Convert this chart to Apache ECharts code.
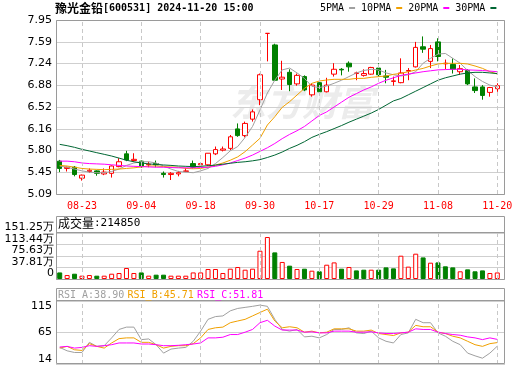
<!DOCTYPE html>
<html>
<head>
<meta charset="utf-8">
<script src="https://cdn.jsdelivr.net/npm/echarts/dist/echarts.min.js"></script>
<style>
html, body { margin: 0; padding: 0; background: #fff; }
#chart { width: 520px; height: 365px; }
</style>
</head>
<body>
<div id="chart"></div>
<script>
// 交易日
var dates = ['08-20','08-21','08-22','08-23','08-26','08-27','08-28','08-29','08-30',
  '09-02','09-03','09-04','09-05','09-06','09-09','09-10','09-11','09-12','09-13',
  '09-18','09-19','09-20','09-23','09-24','09-25','09-26','09-27','09-30',
  '10-08','10-09','10-10','10-11','10-14','10-15','10-16','10-17','10-18','10-21',
  '10-22','10-23','10-24','10-25','10-28','10-29','10-30','10-31',
  '11-01','11-04','11-05','11-06','11-07','11-08','11-11','11-12','11-13','11-14',
  '11-15','11-18','11-19','11-20'];

// K线 开 收 低 高
var opens = [5.63,5.51,5.53,5.35,5.46,5.47,5.42,5.43,5.54,5.75,5.64,5.63,5.57,5.59,5.43,5.41,5.42,5.46,5.59,5.57,
  5.57,5.75,5.81,5.84,6.16,6.05,6.32,6.64,7.73,7.54,6.98,7.09,6.90,7.02,6.72,6.92,6.77,7.06,7.14,7.24,
  7.07,7.04,7.06,7.16,7.03,6.94,6.92,7.11,7.18,7.51,7.27,7.59,7.23,7.22,7.10,7.12,6.85,6.85,6.76,6.82];
var closes = [5.51,5.53,5.41,5.40,5.48,5.43,5.45,5.55,5.62,5.65,5.66,5.54,5.58,5.57,5.41,5.43,5.44,5.47,5.53,5.59,
  5.76,5.82,5.83,6.03,6.05,6.25,6.44,7.05,7.73,6.96,7.01,6.89,7.04,6.80,6.88,6.77,6.88,7.14,7.13,7.18,
  7.08,7.07,7.17,7.05,7.01,6.95,7.08,7.12,7.50,7.47,7.48,7.35,7.24,7.14,7.15,6.90,6.79,6.71,6.84,6.87];
var lows = [5.45,5.46,5.38,5.31,5.44,5.39,5.40,5.36,5.53,5.63,5.62,5.52,5.53,5.53,5.36,5.32,5.38,5.45,5.51,5.54,
  5.55,5.73,5.79,5.81,6.03,6.02,6.28,6.55,7.27,6.96,6.80,6.78,6.87,6.78,6.69,6.75,6.76,7.02,7.04,7.10,
  6.96,7.02,7.05,7.02,6.91,6.87,6.91,6.96,7.17,7.41,7.16,7.27,7.14,7.07,7.05,6.88,6.75,6.64,6.69,6.77];
var highs = [5.65,5.54,5.55,5.41,5.51,5.48,5.51,5.56,5.68,5.80,5.76,5.64,5.62,5.64,5.46,5.45,5.47,5.52,5.64,5.60,
  5.76,5.87,5.87,6.06,6.25,6.28,6.48,7.07,7.73,7.56,7.28,7.14,7.07,7.04,6.91,6.96,7.00,7.24,7.16,7.27,
  7.10,7.14,7.18,7.24,7.13,7.02,7.32,7.16,7.59,7.68,7.54,7.65,7.30,7.32,7.21,7.14,6.99,6.88,6.85,6.91];

// 均线
var ma5 = [5.55,5.53,5.50,5.47,5.45,5.44,5.44,5.46,5.50,5.56,5.60,5.62,5.62,5.60,5.55,5.50,5.46,5.45,5.44,5.47,
  5.51,5.59,5.69,5.80,5.87,6.02,6.20,6.47,6.75,6.96,7.13,7.16,7.08,6.99,6.86,6.84,6.865,6.91,6.96,7.02,
  7.08,7.12,7.14,7.13,7.08,7.05,7.03,7.05,7.10,7.24,7.32,7.39,7.40,7.32,7.24,7.12,7.02,6.94,6.88,6.85];
var ma10 = [5.56,5.55,5.53,5.51,5.50,5.495,5.49,5.495,5.50,5.51,5.52,5.535,5.55,5.55,5.54,5.535,5.53,5.51,5.505,5.51,
  5.53,5.565,5.60,5.645,5.70,5.786,5.895,6.005,6.224,6.36,6.515,6.608,6.717,6.827,6.909,6.947,6.964,6.975,6.975,6.975,
  6.99,6.99,7.008,7.019,7.03,7.057,7.073,7.10,7.128,7.155,7.194,7.227,7.238,7.238,7.238,7.227,7.194,7.155,7.10,7.062];
var ma20 = [5.63,5.63,5.62,5.60,5.59,5.585,5.58,5.57,5.56,5.55,5.545,5.54,5.535,5.53,5.53,5.525,5.52,5.52,5.52,5.525,
  5.53,5.545,5.57,5.60,5.64,5.68,5.73,5.79,5.85,5.92,6.00,6.07,6.13,6.20,6.29,6.38,6.44,6.52,6.60,6.68,
  6.74,6.80,6.85,6.91,6.96,7.00,7.04,7.06,7.08,7.10,7.115,7.13,7.135,7.14,7.14,7.13,7.125,7.12,7.11,7.10];
var ma30 = [5.906,5.884,5.857,5.824,5.797,5.769,5.742,5.714,5.68,5.645,5.62,5.60,5.585,5.575,5.567,5.56,5.55,5.545,5.54,5.545,
  5.555,5.565,5.58,5.595,5.61,5.62,5.635,5.655,5.69,5.73,5.78,5.84,5.89,5.95,6.02,6.07,6.115,6.165,6.215,6.27,
  6.32,6.37,6.42,6.48,6.55,6.62,6.66,6.72,6.78,6.84,6.90,6.96,7.00,7.03,7.06,7.08,7.09,7.09,7.08,7.07];

// 成交量（万手）与涨跌
var volumes = [21.6,13,17.4,10.9,13,10.9,10.9,17.4,19.7,36.2,19.7,21.6,10.9,14.2,14.2,10.9,10.9,10.9,21.6,21.6,
  32.9,32.9,19.7,33.9,39.5,30.6,33.9,93,138,87.5,56,43.8,32.9,33.9,27.3,25.3,47,54.6,33.9,39.5,
  28.3,30.6,30.6,30.6,38.2,35,76.6,40.6,83.2,71,53.6,54.6,41.7,38.2,25.3,31.7,25.3,28.3,19.7,21.485];
var volUp = [0,1,0,1,1,0,1,1,1,1,1,0,1,0,0,1,1,1,1,1,
  1,1,1,1,1,1,1,1,1,0,1,0,1,0,1,0,1,1,0,1,
  0,0,1,0,0,0,1,1,1,0,1,0,0,0,1,0,0,0,1,1];

// RSI
var rsiA = [36.5,30,26.8,26.8,46.2,38.5,39.8,54.7,70.8,75.3,75.3,51.4,52.7,41.7,25.6,33.3,35.2,36.5,48.1,67.6,
  90.2,95.4,96.7,106.4,111,113,115,117.4,115,90.2,70.8,67.6,70.8,56.6,57.9,54.7,61.1,70.8,70.8,74,
  64.3,63,67.6,54.7,48.2,45,61.1,64.3,90.2,83.7,83.7,64.3,57.9,48.2,41.7,25.6,20.4,15.9,25.6,38.90];
var rsiB = [35.2,38.5,32,30.7,43.7,38.5,35.2,45,53.3,54.7,54.7,46.2,46.2,41.7,35.2,38.5,39.8,39.8,43.7,54.7,
  70.8,74,75.3,83.7,87,90.2,96.7,103.2,109.6,87,74,76,74,65.6,67.6,64.3,65.6,72,72,72,
  67.6,67.6,69.6,63,61.1,59.2,64.3,65.6,78.6,76,76,65.6,63,57.9,54.7,48.2,41.7,38.5,43.7,45.71];
var rsiC = [37.2,38.5,35.2,36.5,39.8,38.5,39.8,41.7,45,45,45,43,43,41.7,39.8,39.8,40.5,41.7,43,45,
  54.7,54.7,56,61.1,61.1,65.6,70.8,83.7,88.3,77.3,69.6,69.6,69.6,65.6,66.3,64.3,64.3,67.6,67.6,67.6,
  65.6,65.6,66.3,64.3,63,63,64.3,65.6,72,70.8,70.8,65.6,63,61.1,59.8,56.6,54.7,51.4,54.7,51.81];

// 刻度
var priceTicks = ['5.09','5.45','5.80','6.16','6.52','6.88','7.24','7.59','7.95'];
var volTicks = ['0','37.81万','75.63万','113.44万','151.25万'];
var rsiTicks = [14, 65, 115];
var markDates = ['08-23','09-04','09-18','09-30','10-17','10-29','11-08','11-20'];

var RED = '#ff0000', GREEN = '#008000';
var MONO = 'DejaVu Sans Mono', SANS = 'DejaVu Sans', CJK = 'Noto Sans CJK SC';
var PMIN = 5.09, PMAX = 7.95, PINT = 0.3575;
var VMAX = 151.25, VINT = 37.8125;
var RMIN = 4.8, RMAX = 125.2;

var chart = echarts.init(document.getElementById('chart'));

var candleData = dates.map(function (d, i) {
  return [opens[i], closes[i], lows[i], highs[i]];
});
var volData = volumes.map(function (v, i) {
  return {
    value: v,
    itemStyle: volUp[i]
      ? { color: '#fff', borderColor: RED, borderWidth: 1 }
      : { color: GREEN, borderColor: GREEN, borderWidth: 1 }
  };
});

// 竖向虚线
function vLines() {
  return {
    silent: true,
    symbol: ['none', 'none'],
    label: { show: false },
    lineStyle: { color: '#c8c8c8', type: [4, 3], width: 1 },
    data: markDates.map(function (d) { return { xAxis: d }; })
  };
}

function catAxis(idx, showLabel) {
  return {
    type: 'category', gridIndex: idx, data: dates, boundaryGap: true,
    axisLine: { show: false }, axisTick: { show: false }, splitLine: { show: false },
    axisLabel: {
      show: showLabel, color: RED, fontFamily: MONO, fontSize: 10, margin: 7,
      interval: function (i) { return (i - 3) % 8 === 0; }
    }
  };
}
function frameX(idx) {
  return { type: 'value', gridIndex: idx, show: false, min: 0, max: 1 };
}

function lineSeries(name, data, color, xi, yi) {
  return {
    name: name, type: 'line', data: data, xAxisIndex: xi, yAxisIndex: yi,
    symbol: 'none', smooth: false, silent: true,
    lineStyle: { color: color, width: 1 }, itemStyle: { color: color }
  };
}

var last = dates.length - 1;
var rsiHead = '{a|RSI_A:' + rsiA[last].toFixed(2) + '} {b|RSI_B:' + rsiB[last].toFixed(2) +
  '} {c|RSI_C:' + rsiC[last].toFixed(2) + '}';
var volHead = '{a|成交量}{b|:' + Math.round(volumes[last] * 10000) + '}';

var option = {
  animation: false,
  backgroundColor: '#fff',
  title: {
    left: 55, top: 1, padding: 0,
    text: '{a|豫光金铅}{b|[600531] 2024-11-20 15:00}',
    textStyle: {
      rich: {
        a: { fontFamily: CJK, fontSize: 12, color: '#000', lineHeight: 15 },
        b: { fontFamily: MONO, fontSize: 10, color: '#000', lineHeight: 15 }
      }
    }
  },
  legend: {
    left: 320, top: 3, padding: 0, itemGap: 6, itemWidth: 6, itemHeight: 2,
    align: 'right', icon: 'rect', selectedMode: false,
    textStyle: { fontFamily: MONO, fontSize: 10, color: '#000' },
    data: ['5PMA', '10PMA', '20PMA', '30PMA']
  },
  graphic: [
    { type: 'text', left: 230, top: 84, z: -10, silent: true,
      style: { text: '东方财富', font: 'italic bold 36px "Noto Sans CJK SC"', fill: '#ececec' } },
    { type: 'rect', z: 100, silent: true, shape: { x: 56.5, y: 20.5, width: 448, height: 174 },
      style: { fill: 'none', stroke: '#9a9a9a', lineWidth: 1 } },
    { type: 'rect', z: 100, silent: true, shape: { x: 56.5, y: 216.5, width: 448, height: 63 },
      style: { fill: 'none', stroke: '#9a9a9a', lineWidth: 1 } },
    { type: 'line', z: 100, silent: true, shape: { x1: 56.5, y1: 232.5, x2: 504.5, y2: 232.5 },
      style: { stroke: '#9a9a9a', lineWidth: 1 } },
    { type: 'rect', z: 100, silent: true, shape: { x: 56.5, y: 288.5, width: 448, height: 75 },
      style: { fill: 'none', stroke: '#9a9a9a', lineWidth: 1 } },
    { type: 'line', z: 100, silent: true, shape: { x1: 56.5, y1: 300.5, x2: 504.5, y2: 300.5 },
      style: { stroke: '#9a9a9a', lineWidth: 1 } },
    { type: 'text', left: 58, top: 217, z: 101, silent: true,
      style: { rich: { a: { fontFamily: CJK, fontSize: 12, fill: '#000' }, b: { fontFamily: MONO, fontSize: 11, fill: '#000' } },
        text: volHead } },
    { type: 'text', left: 58, top: 289, z: 101, silent: true,
      style: { rich: { a: { fontFamily: MONO, fontSize: 10, fill: '#a0a0a0' }, b: { fontFamily: MONO, fontSize: 10, fill: '#f0a000' },
        c: { fontFamily: MONO, fontSize: 10, fill: '#ff00ff' } }, text: rsiHead } }
  ],
  grid: [
    { left: 56, top: 20, width: 445, height: 174 },
    { left: 56, top: 233, width: 445, height: 46 },
    { left: 56, top: 301, width: 445, height: 63 },
    { left: 56, top: 20, width: 449, height: 174 },
    { left: 56, top: 233, width: 449, height: 46 },
    { left: 56, top: 301, width: 449, height: 63 }
  ],
  xAxis: [catAxis(0, true), catAxis(1, false), catAxis(2, false), frameX(3), frameX(4), frameX(5)],
  yAxis: [
    { type: 'value', gridIndex: 0, min: PMIN, max: PMAX, show: false },
    { type: 'value', gridIndex: 1, min: 0, max: VMAX, show: false },
    { type: 'value', gridIndex: 2, min: RMIN, max: RMAX,
      axisLine: { show: false }, axisTick: { show: false }, splitLine: { show: false },
      axisLabel: { customValues: rsiTicks, color: '#000', fontFamily: SANS, fontSize: 11, margin: 4 } },
    { type: 'value', gridIndex: 3, min: PMIN, max: PMAX, interval: PINT,
      axisLine: { show: false }, axisTick: { show: false },
      splitLine: { lineStyle: { color: '#cfcfcf', width: 1 } },
      axisLabel: { color: '#000', fontFamily: SANS, fontSize: 11, margin: 4,
        formatter: function (v) { return priceTicks[Math.round((v - PMIN) / PINT)]; } } },
    { type: 'value', gridIndex: 4, min: 0, max: VMAX, interval: VINT,
      axisLine: { show: false }, axisTick: { show: false },
      splitLine: { lineStyle: { color: '#cfcfcf', width: 1 } },
      axisLabel: { color: '#000', fontFamily: SANS, fontSize: 11, margin: 2, verticalAlign: 'bottom', lineHeight: 11,
        formatter: function (v) { return volTicks[Math.round(v / VINT)]; } } },
    { type: 'value', gridIndex: 5, min: RMIN, max: RMAX, interval: (RMAX - RMIN) / 2,
      axisLine: { show: false }, axisTick: { show: false }, axisLabel: { show: false },
      splitLine: { lineStyle: { color: '#cfcfcf', width: 1 } } }
  ],
  series: [
    { type: 'line', xAxisIndex: 3, yAxisIndex: 3, data: [], silent: true },
    { type: 'line', xAxisIndex: 4, yAxisIndex: 4, data: [], silent: true },
    { type: 'line', xAxisIndex: 5, yAxisIndex: 5, data: [], silent: true },
    {
      type: 'candlestick', xAxisIndex: 0, yAxisIndex: 0, data: candleData, barWidth: 5, silent: true,
      itemStyle: { color: '#fff', color0: GREEN, borderColor: RED, borderColor0: GREEN,
        borderColorDoji: RED, borderWidth: 1 },
      markLine: vLines()
    },
    lineSeries('5PMA', ma5, '#a0a0a0', 0, 0),
    lineSeries('10PMA', ma10, '#f0a000', 0, 0),
    lineSeries('20PMA', ma20, '#ff00ff', 0, 0),
    lineSeries('30PMA', ma30, '#006633', 0, 0),
    { type: 'bar', xAxisIndex: 1, yAxisIndex: 1, data: volData, barWidth: 5, silent: true,
      markLine: vLines() },
    lineSeries('RSI_A', rsiA, '#a0a0a0', 2, 2),
    lineSeries('RSI_B', rsiB, '#f0a000', 2, 2),
    lineSeries('RSI_C', rsiC, '#ff00ff', 2, 2)
  ]
};
option.series[9].markLine = vLines();
chart.setOption(option);
</script>
</body>
</html>
